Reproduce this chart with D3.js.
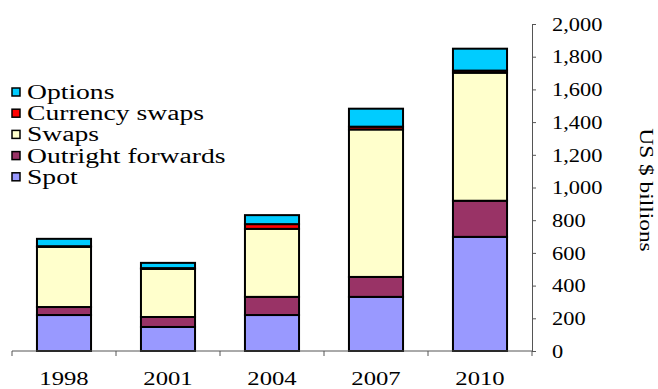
<!DOCTYPE html>
<html>
<head>
<meta charset="utf-8">
<script src="https://cdn.jsdelivr.net/npm/d3@7"></script>
<style>
  body { margin: 0; background: #fff; }
  text { font-family: "Liberation Serif", "Times New Roman", serif; fill: #000; }
</style>
</head>
<body>
<svg id="chart" width="658" height="389"></svg>
<script>
// Turnover by instrument, US $ billions
const years = ["1998", "2001", "2004", "2007", "2010"];
const spot = [220, 147, 220, 331, 698];
const outrightForwards = [49, 61, 111, 122, 221];
const swaps = [368, 294, 416, 902, 783];
const currencySwaps = [4, 5, 29, 17, 13];
const options = [45, 32, 55, 110, 134];

const seriesKeys = ["Spot", "Outright forwards", "Swaps", "Currency swaps", "Options"];
const seriesValues = [spot, outrightForwards, swaps, currencySwaps, options];
const seriesColors = ["#9999FF", "#993366", "#FFFFCC", "#FF0000", "#00CCFF"];
const yTicks = [0, 200, 400, 600, 800, 1000, 1200, 1400, 1600, 1800, 2000];
const axisTitle = "US $ billions";

const svg = d3.select("#chart");
const stretch = 1.38; // horizontal glyph stretch

const x = d3.scaleBand().domain(years).range([12, 532])
  .paddingInner(0.48).paddingOuter(0.24);
const y = d3.scaleLinear().domain([0, 2000]).range([351, 24]);

// rows for the stack
const rows = years.map((yr, i) => {
  const r = { year: yr };
  seriesKeys.forEach((k, j) => r[k] = seriesValues[j][i]);
  return r;
});
const stacked = d3.stack().keys(seriesKeys)(rows);
const color = d3.scaleOrdinal().domain(seriesKeys).range(seriesColors);

// bars
svg.append("g").selectAll("g").data(stacked).join("g")
  .attr("fill", d => color(d.key))
  .selectAll("rect").data(d => d).join("rect")
  .attr("x", d => x(d.data.year))
  .attr("width", x.bandwidth())
  .attr("y", d => y(d[1]))
  .attr("height", d => y(d[0]) - y(d[1]))
  .attr("stroke", "#000")
  .attr("stroke-width", 2);

// category axis: baseline with boundary ticks
const xAxisG = svg.append("g");
xAxisG.append("line")
  .attr("x1", x.range()[0]).attr("x2", x.range()[1])
  .attr("y1", y(0)).attr("y2", y(0))
  .attr("stroke", "#555").attr("stroke-width", 1);
const gap = (x.step() - x.bandwidth()) / 2;
const bounds = years.map(d => x(d) - gap).concat([x(years[years.length - 1]) + x.bandwidth() + gap]);
xAxisG.selectAll("line.tick").data(bounds).join("line")
  .attr("class", "tick")
  .attr("x1", d => d).attr("x2", d => d)
  .attr("y1", y(0)).attr("y2", y(0) + 5)
  .attr("stroke", "#555").attr("stroke-width", 1);
xAxisG.selectAll("text").data(years).join("text")
  .attr("transform", d => `translate(${x(d) + x.bandwidth() / 2},385) scale(1.3,1)`)
  .attr("text-anchor", "middle")
  .style("font-size", "19px")
  .text(d => d);

// value axis on the right
const yAxis = d3.axisRight(y).tickValues(yTicks).tickSize(4).tickSizeOuter(0)
  .tickPadding(14).tickFormat(d3.format(","));
const yAxisG = svg.append("g").attr("transform", `translate(532,0)`).call(yAxis);
yAxisG.select(".domain").attr("stroke", "#555");
yAxisG.selectAll(".tick line").attr("stroke", "#555");
yAxisG.selectAll(".tick text")
  .attr("x", null)
  .attr("transform", `translate(20,0) scale(1.15,1)`)
  .style("font-size", "19.5px")
  .style("font-family", "'Liberation Serif', serif")
  .attr("fill", "#000");

svg.append("text")
  .attr("transform", "translate(647,190) rotate(90) scale(1.2,1)")
  .attr("text-anchor", "middle")
  .attr("dy", "0.35em")
  .style("font-size", "19.5px")
  .text(axisTitle);

// legend, top entry first
const legendOrder = seriesKeys.slice().reverse();
const legend = svg.append("g").attr("transform", "translate(12,92)");
const item = legend.selectAll("g").data(legendOrder).join("g")
  .attr("transform", (d, i) => `translate(0,${i * 21.2})`);
item.append("rect")
  .attr("x", 0).attr("y", -4).attr("width", 8).attr("height", 8)
  .attr("fill", d => color(d)).attr("stroke", "#000").attr("stroke-width", 1.5);
item.append("text")
  .attr("transform", `translate(15,0) scale(${stretch},1)`)
  .attr("dy", "0.35em")
  .style("font-size", "20px")
  .text(d => d);
</script>
</body>
</html>
